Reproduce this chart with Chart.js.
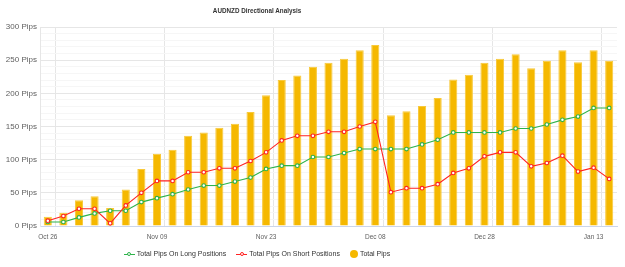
<!DOCTYPE html>
<html>
<head>
<meta charset="utf-8">
<script src="https://cdn.jsdelivr.net/npm/chart.js@4.4.1/dist/chart.umd.min.js"></script>
<style>
	html, body { margin: 0; padding: 0; background: #fff; }
	#wrap { position: relative; width: 625px; height: 267px; font-family: "Liberation Sans", Arial, sans-serif; }
	#title { position: absolute; left: 0; top: 7px; width: 514px; text-align: center; font-size: 6.3px; font-weight: bold; color: #333; }
	#legend { position: absolute; left: 0; top: 250px; width: 514px; text-align: center; font-size: 7px; color: #333; white-space: nowrap; }
	.item { display: inline-block; margin: 0 5px; vertical-align: middle; }
	.sym { display: inline-block; position: relative; width: 11px; height: 7px; vertical-align: middle; margin-right: 2px; }
	.sym .ln { position: absolute; left: 0; right: 0; top: 3px; height: 1px; }
	.sym .pt { position: absolute; left: 3.5px; top: 1.5px; width: 2px; height: 2px; border-radius: 50%; background: #fff; border: 1px solid; }
	.dot { display: inline-block; width: 8px; height: 8px; border-radius: 50%; background: #f5b800; vertical-align: middle; margin-right: 2px; }
</style>
</head>
<body>
<div id="wrap">
	<canvas id="chart" width="625" height="267"></canvas>
	<div id="title">AUDNZD Directional Analysis</div>
	<div id="legend"></div>
</div>
<script>
// category dates (only some are shown as tick labels)
var categories = ['Oct 26','Oct 28','Oct 30','Nov 01','Nov 03','Nov 05','Nov 07',
	'Nov 09','Nov 11','Nov 13','Nov 15','Nov 17','Nov 19','Nov 21',
	'Nov 23','Nov 25','Nov 27','Nov 29','Dec 01','Dec 03','Dec 05',
	'Dec 08','Dec 11','Dec 14','Dec 16','Dec 18','Dec 21','Dec 23',
	'Dec 28','Dec 30','Jan 01','Jan 04','Jan 06','Jan 08','Jan 11',
	'Jan 13','Jan 15'];
var tickLabels = ['Oct 26','Nov 09','Nov 23','Dec 08','Dec 28','Jan 13'];

var totalPips = [14,20,39,45,27,55,86,109,115,136,141,148,154,172,197,220,227,240,246,252,265,273,
	167,173,181,193,221,228,246,252,259,238,249,265,247,265,249];
var longPips = [6,6,13,19,23,23,36,42,48,55,61,61,67,73,86,91,91,104,104,110,116,116,
	116,116,123,130,141,141,141,141,147,147,153,160,165,178,178];
var shortPips = [8,15,26,26,4,31,50,68,68,81,81,87,87,98,111,129,136,136,142,142,150,157,
	51,57,57,63,80,87,105,111,111,90,95,106,82,88,71];

var seriesNames = ['Total Pips On Long Positions', 'Total Pips On Short Positions', 'Total Pips'];
var colors = { long: '#2db34a', short: '#ff2222', total: '#f5b800' };

function legend() {
	var html = '';
	html += '<span class="item"><span class="sym"><span class="ln" style="background:' + colors.long + '"></span><span class="pt" style="border-color:' + colors.long + '"></span></span>' + seriesNames[0] + '</span>';
	html += '<span class="item"><span class="sym"><span class="ln" style="background:' + colors.short + '"></span><span class="pt" style="border-color:' + colors.short + '"></span></span>' + seriesNames[1] + '</span>';
	html += '<span class="item"><span class="dot"></span>' + seriesNames[2] + '</span>';
	document.getElementById('legend').innerHTML = html;
}

function lineSet(label, data, color, order) {
	return {
		type: 'line',
		label: label,
		data: data,
		borderColor: color,
		borderWidth: 1.1,
		pointRadius: 1.8,
		pointBorderWidth: 1.1,
		pointBackgroundColor: '#fff',
		pointBorderColor: color,
		tension: 0,
		fill: false,
		order: order
	};
}

new Chart(document.getElementById('chart'), {
	type: 'bar',
	data: {
		labels: categories,
		datasets: [
			lineSet(seriesNames[0], longPips, colors.long, 2),
			lineSet(seriesNames[1], shortPips, colors.short, 1),
			{
				type: 'bar',
				label: seriesNames[2],
				data: totalPips,
				backgroundColor: colors.total,
				borderColor: '#f8c93a',
				borderWidth: 1,
				borderSkipped: 'bottom',
				barPercentage: 0.52,
				categoryPercentage: 1,
				order: 3
			}
		]
	},
	options: {
		responsive: false,
		animation: false,
		layout: { padding: { top: 27, right: 8, bottom: 27, left: 0 } },
		plugins: {
			legend: { display: false },
			title: { display: false },
			tooltip: { enabled: false }
		},
		scales: {
			x: {
				grid: {
					offset: true,
					drawTicks: false,
					color: function(ctx) { return ctx.index % 7 === 1 ? '#e6e6e6' : 'rgba(0,0,0,0)'; }
				},
				border: { color: '#ccd6eb', width: 1 },
				ticks: {
					autoSkip: false,
					maxRotation: 0,
					padding: 7,
					color: '#606060',
					font: { family: '"Liberation Sans", Arial, sans-serif', size: 6.5 },
					callback: function(v, i) { return tickLabels.indexOf(categories[i]) >= 0 ? categories[i] : ''; }
				},
				afterFit: function(scale) { scale.height = 14; }
			},
			y: {
				min: 0,
				max: 300,
				grid: {
					drawTicks: false,
					color: function(ctx) { return ctx.tick.value % 50 === 0 ? '#e6e6e6' : '#f6f6f6'; }
				},
				border: { color: '#e6e6e6' },
				ticks: {
					stepSize: 10,
					autoSkip: false,
					padding: 3,
					color: '#606060',
					font: { family: '"Liberation Sans", Arial, sans-serif', size: 8 },
					callback: function(v) { return v % 50 === 0 ? v + ' Pips' : ''; }
				},
				afterFit: function(scale) { scale.width = 40; }
			}
		}
	}
});

legend();
</script>
</body>
</html>
